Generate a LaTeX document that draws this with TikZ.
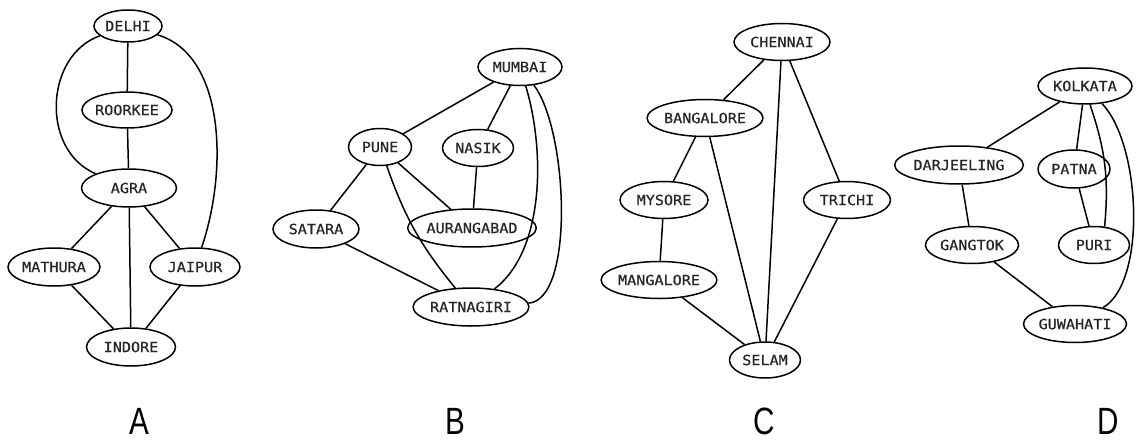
\documentclass[tikz,border=0pt]{standalone}
\usepackage{fontspec}
\usetikzlibrary{shapes.geometric}
\newfontfamily\citf[FakeStretch=1.08,FakeBold=0.6]{DejaVu Sans Mono}
\newfontfamily\labf[FakeStretch=0.78]{Liberation Sans}
\begin{document}
\begin{tikzpicture}[x=1pt,y=-1pt,
  city/.style={ellipse, draw, line width=1.5pt, inner sep=0pt, minimum height=36pt,
    font=\citf\fontsize{14}{14}\selectfont, text=black!85},
  edge/.style={line width=1.5pt},
  lab/.style={font=\labf\fontsize{38}{38}\selectfont, inner sep=0pt, anchor=base}]
\useasboundingbox (0,0) rectangle (1137,441);
% Graph A
\node[city, minimum width=68pt, minimum height=32pt] (delhi) at (128,26) {DELHI};
\node[city, minimum width=82pt] (roorkee) at (127,110) {ROORKEE};
\node[city, minimum width=95pt, minimum height=38pt] (agra) at (129,188) {AGRA};
\node[city, minimum width=92pt, minimum height=38pt] (mathura) at (54,267) {MATHURA};
\node[city, minimum width=90pt, minimum height=38pt] (jaipur) at (195,267) {JAIPUR};
\node[city, minimum width=89pt, minimum height=38pt] (indore) at (131,347) {INDORE};
\draw[edge] (delhi) -- (roorkee);
\draw[edge] (roorkee) -- (agra);
\draw[edge] (delhi) .. controls +(-83,29) and +(-89,-38) .. (agra);
\draw[edge] (delhi) .. controls +(97,29) and +(33,-97) .. (jaipur);
\draw[edge] (agra) -- (mathura);
\draw[edge] (agra) -- (indore);
\draw[edge] (agra) -- (jaipur);
\draw[edge] (mathura) -- (indore);
\draw[edge] (jaipur) -- (indore);
% Graph B
\node[city, minimum width=84pt, minimum height=37pt] (mumbai) at (520,67) {MUMBAI};
\node[city, minimum width=63pt, minimum height=37pt] (pune) at (380,147) {PUNE};
\node[city, minimum width=71pt, minimum height=37pt] (nasik) at (478,148) {NASIK};
\node[city, minimum width=86pt, minimum height=38pt] (satara) at (316,229) {SATARA};
\node[city, minimum width=120pt, minimum height=38pt] (aurangabad) at (472,228) {AURANGABAD};
\node[city, minimum width=102pt, minimum height=38pt] (ratnagiri) at (471,307) {RATNAGIRI};
\draw[edge] (mumbai) -- (pune);
\draw[edge] (mumbai) -- (nasik);
\draw[edge] (mumbai) .. controls +(25,83) and +(74,-57) .. (ratnagiri);
\draw[edge] (mumbai) .. controls +(48,63) and +(104,-7) .. (ratnagiri);
\draw[edge] (pune) -- (satara);
\draw[edge] (pune) -- (aurangabad);
\draw[edge] (pune) to[bend right=10] (ratnagiri);
\draw[edge] (nasik) -- (aurangabad);
\draw[edge] (satara) -- (ratnagiri);
% Graph C
\node[city, minimum width=96pt, minimum height=37pt] (chennai) at (782,42) {CHENNAI};
\node[city, minimum width=109pt, minimum height=37pt] (bangalore) at (705,118) {BANGALORE};
\node[city, minimum width=88pt, minimum height=37pt] (mysore) at (664,200) {MYSORE};
\node[city, minimum width=87pt, minimum height=37pt] (trichi) at (847,200) {TRICHI};
\node[city, minimum width=106pt, minimum height=37pt] (mangalore) at (659,280) {MANGALORE};
\node[city, minimum width=71pt, minimum height=36pt] (selam) at (765,360) {SELAM};
\draw[edge] (chennai) -- (bangalore);
\draw[edge] (chennai) -- (selam);
\draw[edge] (chennai) -- (trichi);
\draw[edge] (bangalore) -- (mysore);
\draw[edge] (bangalore) -- (selam);
\draw[edge] (mysore) -- (mangalore);
\draw[edge] (mangalore) -- (selam);
\draw[edge] (trichi) -- (selam);
% Graph D
\node[city, minimum width=94pt, minimum height=36pt] (kolkata) at (1085,86) {KOLKATA};
\node[city, minimum width=118pt, minimum height=38pt] (darjeeling) at (959,165) {DARJEELING};
\node[city, minimum width=72pt, minimum height=38pt] (patna) at (1074,169) {PATNA};
\node[city, minimum width=93pt, minimum height=37pt] (gangtok) at (972,245) {GANGTOK};
\node[city, minimum width=71pt, minimum height=37pt] (puri) at (1094,245) {PURI};
\node[city, minimum width=97pt, minimum height=37pt] (guwahati) at (1075,324) {GUWAHATI};
\draw[edge] (kolkata) -- (darjeeling);
\draw[edge] (kolkata) -- (patna);
\draw[edge] (kolkata.285) to[bend left=12] (puri.60);
\draw[edge] (kolkata) .. controls +(56,58) and +(72,-42) .. (guwahati);
\draw[edge] (patna) -- (puri);
\draw[edge] (darjeeling) -- (gangtok);
\draw[edge] (gangtok) -- (guwahati);
% Labels
\node[lab] (la) at (139,434) {A};
\node[lab] (lb) at (455,434) {B};
\node[lab] (lc) at (764,434) {C};
\node[lab] (ld) at (1108,434) {D};
\end{tikzpicture}
\end{document}
